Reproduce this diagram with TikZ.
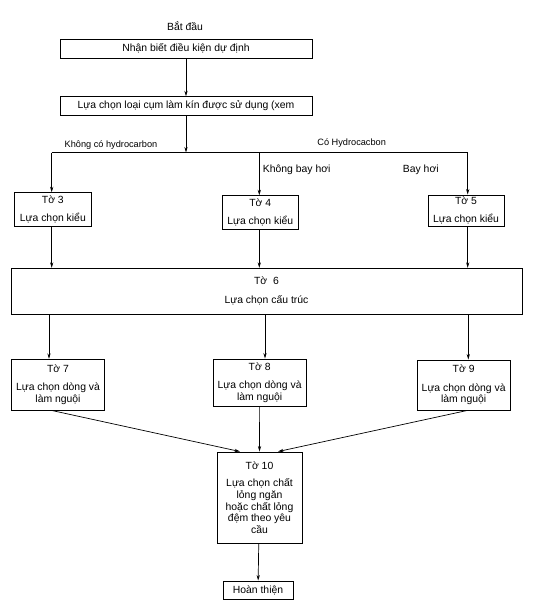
\documentclass[tikz,border=0pt]{standalone}
\usepackage{fontspec}
\setmainfont{Liberation Sans}
\usetikzlibrary{arrows.meta}
\newcommand{\fsz}{\fontsize{10.4}{11.7}\selectfont}
\newcommand{\fsl}{\fontsize{9.2}{11}\selectfont}
\tikzset{
  box/.style={draw, line width=0.9pt, inner sep=0pt, align=center, font=\fsz},
  lbl/.style={inner sep=0pt, font=\fsz},
  slbl/.style={inner sep=0pt, font=\fsl},
  arr/.style={-{Stealth[length=5.5pt,width=3.2pt]}, line width=0.7pt},
  ln/.style={line width=0.7pt}
}
\begin{document}
\begin{tikzpicture}[x=1pt,y=-1pt]
\useasboundingbox[fill=white] (0,0) rectangle (554,603);
% labels
\node[lbl] (bd) at (185,25.7) {Bắt đầu};
% boxes
\node[box, minimum width=252pt, minimum height=19pt] (b1) at (186,48.5) {Nhận biết điều kiện dự định};
\node[box, minimum width=252pt, minimum height=18.5pt] (b2) at (186,106) {Lựa chọn loại cụm làm kín được sử dụng (xem};
\node[box, minimum width=77.7pt, minimum height=34pt] (t3) at (52.85,209.7) {Tờ 3\\[6pt]Lựa chọn kiểu};
\node[box, minimum width=76pt, minimum height=33.6pt] (t4) at (260.3,212.5) {Tờ 4\\[6pt]Lựa chọn kiểu};
\node[box, minimum width=76pt, minimum height=31pt] (t5) at (466,210.5) {Tờ 5\\[6pt]Lựa chọn kiểu};
\node[box, minimum width=511pt, minimum height=45.7pt] (t6) at (266.5,291.15) {Tờ\ \ 6\\[7pt]Lựa chọn cấu trúc};
\node[box, minimum width=92.6pt, minimum height=50.7pt] (t7) at (58,384.65) {Tờ 7\\[6.5pt]Lựa chọn dòng và\\làm nguội};
\node[box, minimum width=92.7pt, minimum height=47pt] (t8) at (259.65,382.5) {Tờ 8\\[6.5pt]Lựa chọn dòng và\\làm nguội};
\node[box, minimum width=92.7pt, minimum height=50pt] (t9) at (463.65,385) {Tờ 9\\[6.5pt]Lựa chọn dòng và\\làm nguội};
\node[box, minimum width=85pt, minimum height=91pt] (t10) at (259.5,497.5) {Tờ 10\\[6pt]Lựa chọn chất\\lỏng ngăn\\hoặc chất lỏng\\đệm theo yêu\\cầu};
\node[box, minimum width=70pt, minimum height=18pt] (fin) at (258,590) {Hoàn thiện};
% branch labels
\node[slbl] (l1) at (111,145.5) {Không có hydrocarbon};
\node[slbl] (l2) at (351.7,143.5) {Có Hydrocacbon};
\node[lbl] (l3) at (296.7,170) {Không bay hơi};
\node[lbl] (l4) at (420.8,170) {Bay hơi};
% junction line
\coordinate (j0) at (186,152.5);
\coordinate (jl) at (51.7,152.5);
\coordinate (jm) at (259.3,152.5);
\coordinate (jr) at (467.7,152.5);
% connectors
\draw[arr] (b1) -- (b2);
\draw[arr] (b2) -- (j0);
\draw[ln] (jl) -- (jr);
\draw[arr] (jl) -- (jl |- t3.north);
\draw[arr] (jm) -- (jm |- t4.north);
\draw[arr] (jr) -- (jr |- t5.north);
\draw[arr] (jl |- t3.south) -- (jl |- t6.north);
\draw[arr] (jm |- t4.south) -- (jm |- t6.north);
\draw[arr] (jr |- t5.south) -- (jr |- t6.north);
\draw[arr] ([xshift=-9pt]t7.north |- t6.south) -- ([xshift=-9pt]t7.north);
\draw[arr] ([xshift=5.35pt]t8.north |- t6.south) -- ([xshift=5.35pt]t8.north);
\draw[arr] ([xshift=4.65pt]t9.north |- t6.south) -- ([xshift=4.65pt]t9.north);
\draw[arr] ([xshift=-6.3pt]t7.south) -- ([xshift=-19.5pt]t10.north);
\draw[arr] (t8.south) -- (t10.north);
\draw[arr] ([xshift=3.65pt]t9.south) -- ([xshift=18.5pt]t10.north);
\draw[arr] (t10) -- (fin);
\end{tikzpicture}
\end{document}
